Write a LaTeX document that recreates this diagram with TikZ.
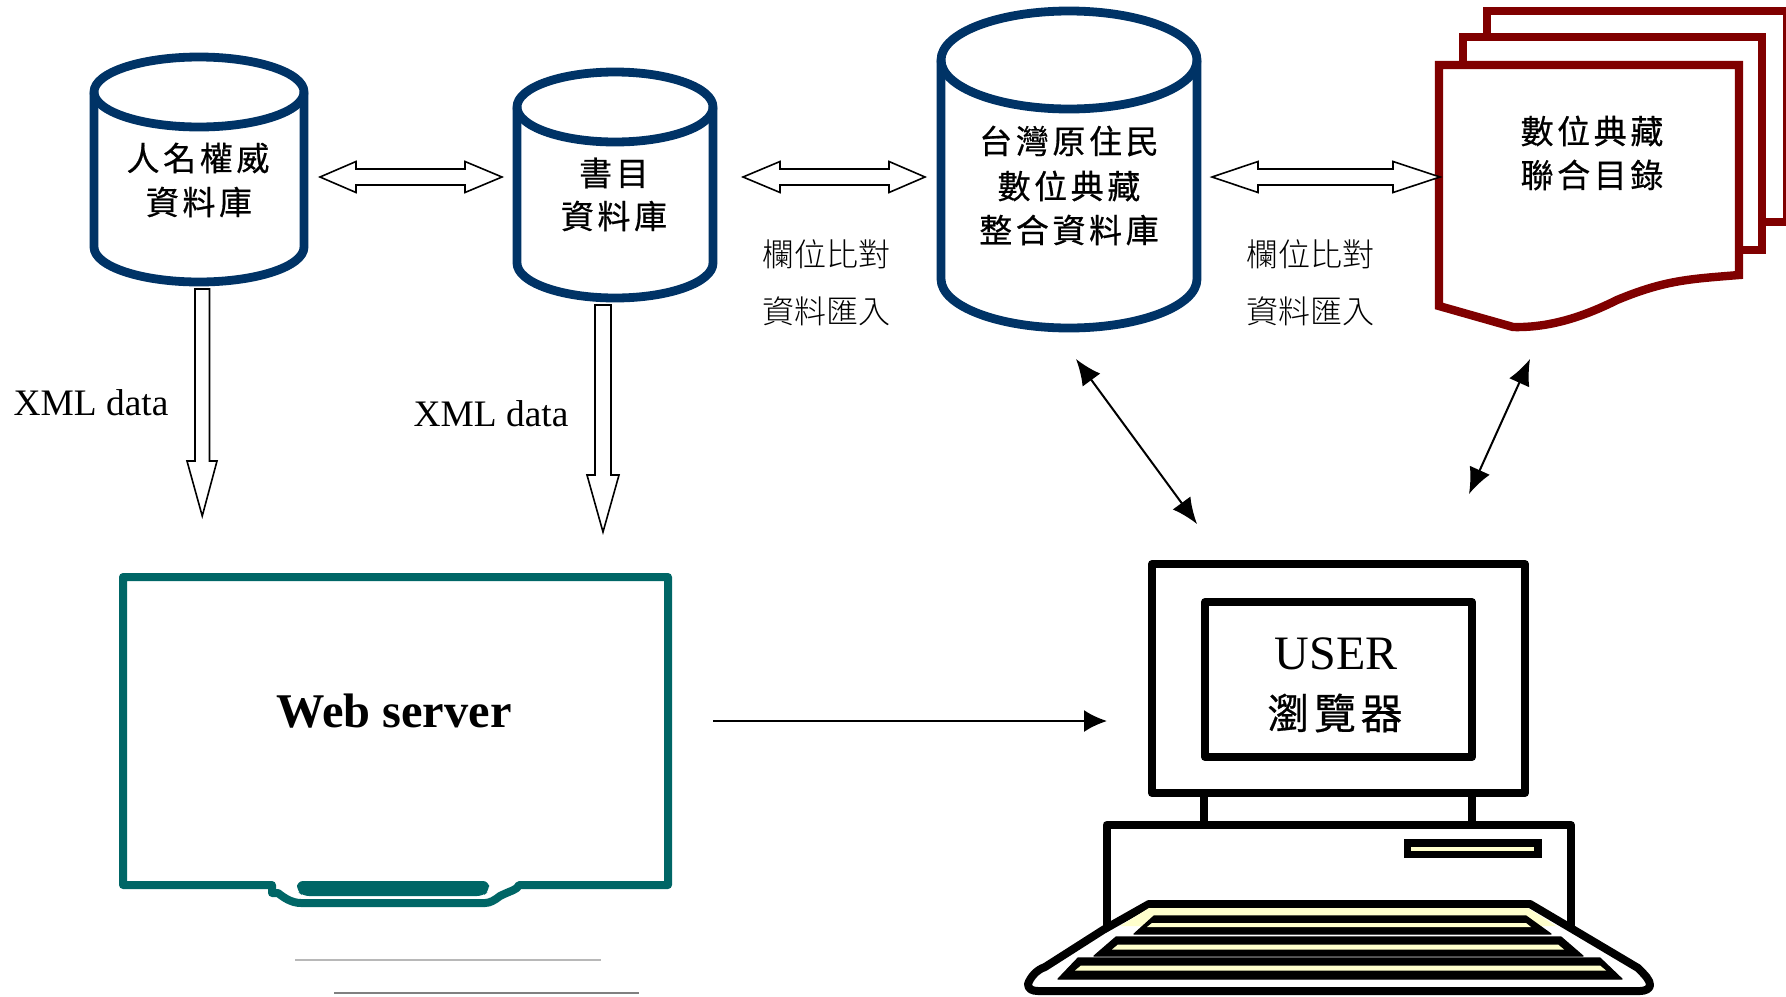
\documentclass[tikz,border=0pt]{standalone}
\usepackage{fontspec}
\setmainfont{Liberation Serif}
\newfontfamily\cjkb[LetterSpace=11,FakeBold=0.6]{Noto Sans CJK TC}
\newfontfamily\cjkl{Noto Sans CJK TC Light}
\usetikzlibrary{arrows.meta}
\definecolor{dbblue}{HTML}{003366}
\definecolor{docred}{HTML}{800000}
\definecolor{teal2}{HTML}{006666}
\definecolor{keyyel}{HTML}{FFFFCC}
\tikzset{
  dbline/.style={draw=dbblue,line width=4.4pt,fill=white,line join=round},
  docline/.style={draw=docred,line width=4.2pt,fill=white,line join=miter},
  pcline/.style={draw=black,line width=4pt,line join=round},
  blockarrow/.style={draw=black,line width=0.8pt,fill=white,line join=miter},
  thinarrow/.style={draw=black,line width=1.1pt,-{Latex[length=11.5pt,width=11pt]}},
  thinboth/.style={draw=black,line width=1pt,{Latex[length=13pt,width=11pt]}-{Latex[length=13pt,width=11pt]}},
  boldcjk/.style={font=\cjkb\fontsize{16.5pt}{22pt}\selectfont,align=center,inner sep=0pt},
  lightcjk/.style={font=\cjkl\fontsize{16pt}{20pt}\selectfont,inner sep=0pt},
  xmllabel/.style={font=\fontsize{18.7pt}{22pt}\selectfont,inner sep=0pt}
}
\newcommand{\dbcyl}[5]{% left right topcentre ry bottomcentre
  \path[dbline] (#1,#3) -- (#1,#5) arc[start angle=180,end angle=0,x radius={(#2-#1)/2},y radius=#4] -- (#2,#3)
     arc[start angle=0,end angle=-180,x radius={(#2-#1)/2},y radius=#4] -- cycle;
  \path[dbline,fill=none] (#1,#3) arc[start angle=180,end angle=0,x radius={(#2-#1)/2},y radius=#4];
}
\newcommand{\hblock}[5]{% lefttip leftbase rightbase righttip y
  \path[blockarrow] (#1,#5) -- (#2,#5-15.5) -- (#2,#5-8) -- (#3,#5-8) -- (#3,#5-15.5) -- (#4,#5)
    -- (#3,#5+15.5) -- (#3,#5+8) -- (#2,#5+8) -- (#2,#5+15.5) -- cycle;
}
\newcommand{\vblock}[7]{% sl sr top shaftend hl hr tip
  \path[blockarrow] (#1,#3) -- (#2,#3) -- (#2,#4) -- (#6,#4) -- ({(#1+#2)/2},#7) -- (#5,#4) -- (#1,#4) -- cycle;
}
\begin{document}
\begin{tikzpicture}[x=0.5pt,y=-0.5pt]
\useasboundingbox (0,0) rectangle (1786,996);
% Databases
\dbcyl{94}{304}{92}{35}{247}
\dbcyl{517}{713}{107}{35}{263}
\dbcyl{941}{1197}{60}{49}{279}
\node[boldcjk] (adb1) at (198,158) {人名權威};
\node[boldcjk] (adb2) at (199,202) {資料庫};
\node[boldcjk] (bdb1) at (614,173) {書目};
\node[boldcjk] (bdb2) at (614,216) {資料庫};
\node[boldcjk] (cdb1) at (1069,141) {台灣原住民};
\node[boldcjk] (cdb2) at (1069,186) {數位典藏};
\node[boldcjk] (cdb3) at (1069,230) {整合資料庫};
% Documents
\path[docline] (1487,44) -- (1487,11) -- (1787,11) -- (1787,222) -- (1762,222);
\path[docline] (1463,68) -- (1463,37) -- (1762,37) -- (1762,250) -- (1739,250);
\path[docline] (1439,65) -- (1739,65) -- (1739,275)
   .. controls (1690,279) and (1665,280) .. (1617,300)
   .. controls (1585,316) and (1550,328) .. (1513,327)
   -- (1439,306) -- cycle;
\node[boldcjk] (doc1) at (1592,131) {數位典藏};
\node[boldcjk] (doc2) at (1592,175) {聯合目錄};
% Block arrows
\hblock{320}{356}{465}{502}{177}
\hblock{743}{780}{889}{925}{177}
\hblock{1212}{1258}{1393}{1440}{177}
\vblock{195}{209.5}{289}{461}{187}{217}{516}
\vblock{595}{611}{305}{475}{587}{619}{532}
\node[xmllabel] (xml1) at (91,403) {XML data};
\node[xmllabel] (xml2) at (491,414) {XML data};
\node[lightcjk] (f1) at (826,254) {欄位比對};
\node[lightcjk] (g1) at (826,311) {資料匯入};
\node[lightcjk] (f2) at (1310,254) {欄位比對};
\node[lightcjk] (g2) at (1310,311) {資料匯入};
% Thin arrows
\coordinate (p1) at (1076,359); \coordinate (p2) at (1197,524);
\coordinate (p3) at (1530,359); \coordinate (p4) at (1469,494);
\coordinate (p5) at (713,721);  \coordinate (p6) at (1107,721);
\draw[thinboth] (p1) -- (p2);
\draw[thinboth] (p3) -- (p4);
\draw[thinarrow] (p5) -- (p6);
% Web server
\path[draw=teal2,line width=4pt,line join=round] (123,577) -- (668,577) -- (668,885) -- (519,885)
  .. controls (517,890) and (512,890) .. (500,896) .. controls (495,900) and (490,903) .. (485,903)
  -- (301,903) .. controls (291,903) and (283,897) .. (278,893) -- (272,893) -- (272,885) -- (123,885) -- cycle;
\path[fill=teal2,rounded corners=3pt] (297,881) -- (489,881) -- (489,891) -- (483,896) -- (303,896) -- (297,891) -- cycle;
\node[font=\bfseries\fontsize{24.2pt}{28pt}\selectfont,inner sep=0pt] (web) at (394,711) {Web server};
\draw[color=black!28,line width=0.7pt] (295,960) -- (601,960);
\draw[color=black!50,line width=0.7pt] (334,993) -- (639,993);
% Computer
\path[pcline,fill=white] (1106.5,926) -- (1106.5,825) -- (1571,825) -- (1571,926);
\path[pcline] (1204,793) -- (1204,825);
\path[pcline] (1472,793) -- (1472,825);
\path[pcline,fill=white] (1152,564) rectangle (1525,793);
\path[pcline,fill=white] (1205,602) rectangle (1472,757);
\path[fill=black] (1404,839) rectangle (1542,858);
\path[fill=keyyel] (1411,847) rectangle (1534,851);
\path[pcline,fill=white] (1149,904) -- (1530,904) -- (1574,930) -- (1638,968)
  .. controls (1645,975) and (1650,980) .. (1650,985) .. controls (1650,989) and (1645,991) .. (1640,991)
  -- (1038,991) .. controls (1032,991) and (1028,989) .. (1028,984)
  .. controls (1030,978) and (1036,970) .. (1045,967) -- (1103,930) -- cycle;
\path[fill=keyyel] (1149,908) -- (1528,908) -- (1556,926) -- (1120,926) -- cycle;
% Keyboard rows
\path[fill=black,line join=round,draw=black,line width=0.6pt] (1154,916) -- (1526,916) -- (1551,934) -- (1134,934) -- cycle;
\path[fill=keyyel] (1152,923) -- (1526,923) -- (1531,927) -- (1147,927) -- cycle;
\path[fill=black,line join=round,draw=black,line width=0.6pt] (1116,937) -- (1561,937) -- (1583,956) -- (1094,956) -- cycle;
\path[fill=keyyel] (1118,944.5) -- (1558,944.5) -- (1564,949.5) -- (1112,949.5) -- cycle;
\path[fill=black,line join=round,draw=black,line width=0.6pt] (1078,958) -- (1600,958) -- (1622,979) -- (1058,979) -- cycle;
\path[fill=keyyel] (1081,965.5) -- (1600,965.5) -- (1606,970.5) -- (1075,970.5) -- cycle;
\node[font=\fontsize{24pt}{28pt}\selectfont,inner sep=0pt] (user) at (1336,654) {USER};
\node[font=\cjkb\fontsize{21pt}{24pt}\selectfont,inner sep=0pt] (browser) at (1335,713) {瀏覽器};
\end{tikzpicture}
\end{document}
